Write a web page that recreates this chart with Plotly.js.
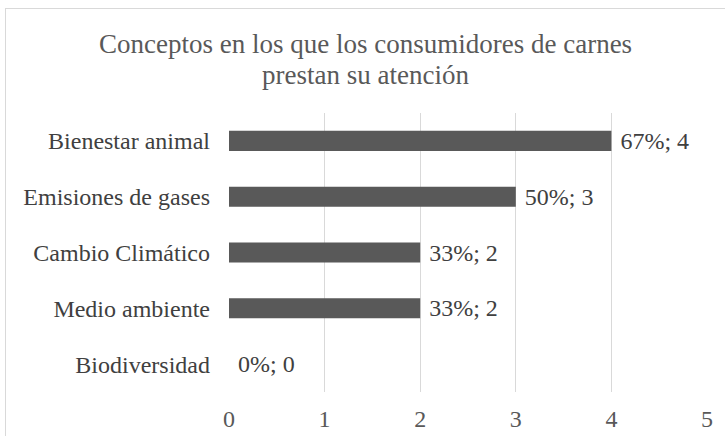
<!DOCTYPE html>
<html><head><meta charset="utf-8">
<script src="https://cdn.plot.ly/plotly-3.0.1.min.js"></script>
<style>
html,body{margin:0;padding:0;width:725px;height:436px;overflow:hidden;background:#fff;}
#frame{position:absolute;left:5px;top:8px;width:760px;height:460px;border:1px solid #d9d9d9;box-sizing:border-box;}
#chart{position:absolute;left:0;top:0;width:725px;height:436px;}
</style></head>
<body>
<div id="frame"></div>
<div id="chart"></div>
<script>
const categories = ["Bienestar animal","Emisiones de gases","Cambio Climático","Medio ambiente","Biodiversidad"];
const counts = [4,3,2,2,0];
const percents = ["67%","50%","33%","33%","0%"];
const xTicks = [0,1,2,3,4,5];
const titleLines = ["Conceptos en los que los consumidores de carnes","prestan su atención"];

const FONT = "'Liberation Serif', 'DejaVu Serif', serif";
const labels = counts.map((c,i)=>"\u00a0"+percents[i]+"; "+c);
const trace = {
  type:"bar", orientation:"h",
  y: categories.slice().reverse(),
  x: counts.slice().reverse(),
  text: labels.slice().reverse(),
  textposition:"outside",
  constraintext:"none",
  cliponaxis:false,
  textfont:{family:FONT, size:24, color:"#404040"},
  marker:{color:"#595959"},
  hoverinfo:"none"
};
const plotTop = 113, plotBot = 392, H = 436;
const toPaper = p => (plotBot - p) / (plotBot - plotTop);
const layout = {
  width:725, height:436,
  paper_bgcolor:"rgba(0,0,0,0)", plot_bgcolor:"rgba(0,0,0,0)",
  margin:{l:229, r:18, t:plotTop, b:H-plotBot},
  annotations: titleLines.map((t,i)=>({
    text:t, showarrow:false, xref:"paper", yref:"paper",
    x:(365-229)/(707-229), xanchor:"center",
    y:toPaper(i===0?44:75), yanchor:"middle",
    font:{family:FONT, size:27, color:"#595959"}
  })),
  bargap:0.64,
  showlegend:false,
  xaxis:{range:[0,5], tickvals:xTicks, showgrid:true, gridcolor:"#d9d9d9", gridwidth:1,
    zeroline:false, showline:false, ticks:"", ticklabelstandoff:10,
    tickfont:{family:FONT, size:24, color:"#595959"}},
  yaxis:{showgrid:false, zeroline:false, showline:false, ticks:"", ticklabelstandoff:18,
    tickfont:{family:FONT, size:24, color:"#404040"}},
  font:{family:FONT}
};
Plotly.newPlot("chart",[trace],layout,{displayModeBar:false,staticPlot:true});
</script>
</body></html>
